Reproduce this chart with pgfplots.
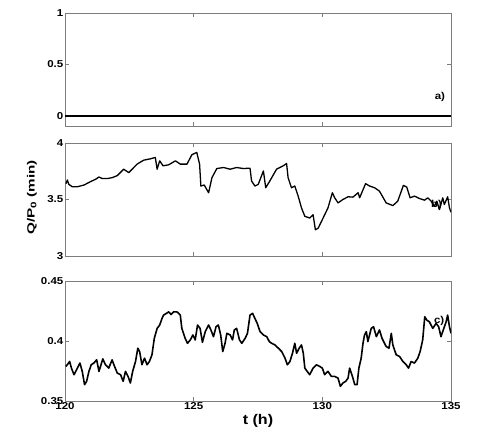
\documentclass[border=0pt]{standalone}
\usepackage{fontspec}
\setmainfont{Liberation Sans}
\newfontfamily\lbl[FakeStretch=1.15]{Liberation Sans}
\newfontfamily\ylbl[FakeStretch=1.45]{Liberation Sans}
\usepackage{pgfplots}
\pgfplotsset{compat=1.18}
\definecolor{axgray}{RGB}{125,125,125}

\pgfplotsset{
  panel/.style={
    scale only axis, width=386pt,
    xmin=120, xmax=135, xtick={120,125,130,135},
    tick align=inside, major tick length=4pt,
    axis line style={axgray, line width=0.6pt},
    tick style={axgray, line width=0.5pt},
    tick label style={font=\lbl\fontsize{10}{12}\selectfont\bfseries, text=black, inner sep=1.5pt},
    /pgf/number format/assume math mode=true,
    scaled ticks=false,
    anchor=south west,
  },
  trace/.style={black, line width=1.3pt, line join=round},
}
\tikzset{tag/.style={font=\lbl\fontsize{10}{12}\selectfont\bfseries}}

\begin{document}
\begin{tikzpicture}
\useasboundingbox (0,0) rectangle (498pt,435pt);

% a)
\begin{axis}[panel, at={(65pt,309pt)}, height=113pt,
  ymin=-0.1, ymax=1, ytick={0,0.5,1}, xticklabels=\empty]
\addplot[black, line width=1.8pt] coordinates {(120,0) (135,0)};
\node[tag] at (axis cs:134.57,0.18) {a)};
\end{axis}

% b)
\begin{axis}[panel, at={(65pt,179pt)}, height=113pt,
  ymin=3, ymax=4, ytick={3,3.5,4}, xticklabels=\empty,
  ylabel={Q/P\raisebox{-0.35ex}{\fontsize{8}{9}\selectfont 0} (min)},
  ylabel style={font=\ylbl\fontsize{10.5}{12}\selectfont\bfseries, at={(rel axis cs:-0.086,0.52)}, anchor=center}]
\addplot[trace] coordinates {
(120.04,3.640) (120.09,3.673) (120.15,3.634) (120.28,3.613) (120.48,3.613)
(120.74,3.628) (120.99,3.658) (121.19,3.679) (121.32,3.699) (121.45,3.685)
(121.64,3.685) (121.83,3.693) (122.03,3.711) (122.28,3.768) (122.48,3.738)
(122.61,3.768) (122.80,3.813) (123.06,3.848) (123.32,3.860) (123.51,3.872)
(123.58,3.768) (123.68,3.842) (123.81,3.798) (124.03,3.807) (124.29,3.842)
(124.48,3.813) (124.74,3.813) (124.93,3.896) (125.12,3.917) (125.23,3.813)
(125.28,3.619) (125.41,3.628) (125.58,3.560) (125.71,3.693) (125.90,3.774)
(126.16,3.783) (126.42,3.768) (126.67,3.783) (126.93,3.774) (127.19,3.777)
(127.25,3.664) (127.38,3.619) (127.51,3.634) (127.71,3.753) (127.80,3.604)
(127.96,3.664) (128.22,3.768) (128.48,3.798) (128.61,3.818) (128.67,3.693)
(128.80,3.604) (128.93,3.619) (129.06,3.530) (129.19,3.426) (129.32,3.351)
(129.51,3.336) (129.64,3.366) (129.73,3.232) (129.84,3.247) (130.03,3.336)
(130.22,3.426) (130.39,3.560) (130.48,3.515) (130.61,3.470) (130.80,3.500)
(131.00,3.524) (131.19,3.521) (131.39,3.560) (131.45,3.515) (131.68,3.640)
(131.84,3.619) (132.03,3.604) (132.22,3.574) (132.48,3.470) (132.74,3.446)
(132.93,3.485) (133.15,3.625) (133.28,3.610) (133.41,3.515) (133.58,3.530)
(133.77,3.509) (133.97,3.494) (134.10,3.515) (134.23,3.485) (134.35,3.440)
(134.45,3.485) (134.55,3.411) (134.68,3.515) (134.74,3.455) (134.87,3.524)
(134.94,3.426) (135.00,3.387)
};
\node[tag] at (axis cs:134.44,3.45) {b)};
\end{axis}

% c)
\begin{axis}[panel, at={(65pt,34pt)}, height=120pt,
  ymin=0.35, ymax=0.45, ytick={0.35,0.4,0.45},
  xlabel={t (h)},
  xlabel style={font=\lbl\fontsize{14}{16}\selectfont\bfseries, at={(rel axis cs:0.5,-0.167)}, anchor=center}]
\addplot[trace, line width=1.6pt] coordinates {
(120.03,0.3788) (120.09,0.3802) (120.18,0.3829) (120.25,0.3774) (120.35,0.3719)
(120.45,0.3760) (120.58,0.3816) (120.67,0.3747) (120.76,0.3636) (120.84,0.3664)
(120.93,0.3747) (121.02,0.3802) (121.12,0.3816) (121.23,0.3843) (121.32,0.3747)
(121.38,0.3788) (121.47,0.3851) (121.57,0.3802) (121.70,0.3774) (121.83,0.3843)
(121.90,0.3802) (122.03,0.3733) (122.16,0.3719) (122.26,0.3664) (122.35,0.3747)
(122.45,0.3705) (122.54,0.3650) (122.63,0.3747) (122.74,0.3829) (122.83,0.3940)
(122.90,0.3912) (122.99,0.3802) (123.09,0.3857) (123.19,0.3802) (123.28,0.3829)
(123.38,0.3885) (123.47,0.4022) (123.58,0.4105) (123.68,0.4133) (123.77,0.4188)
(123.83,0.4216) (123.94,0.4230) (124.03,0.4243) (124.12,0.4221) (124.22,0.4243)
(124.35,0.4243) (124.48,0.4216) (124.54,0.4105) (124.67,0.4022) (124.76,0.3981)
(124.87,0.4009) (124.97,0.4050) (125.06,0.4009) (125.15,0.4133) (125.25,0.4105)
(125.34,0.3989) (125.45,0.4078) (125.58,0.4133) (125.67,0.4092) (125.77,0.4036)
(125.87,0.4119) (125.96,0.4133) (126.05,0.4050) (126.13,0.3912) (126.22,0.3981)
(126.29,0.4064) (126.42,0.4050) (126.51,0.4009) (126.58,0.4092) (126.67,0.4105)
(126.78,0.4009) (126.87,0.3981) (127.00,0.4022) (127.09,0.4064) (127.19,0.4216)
(127.29,0.4230) (127.38,0.4188) (127.47,0.4147) (127.58,0.4078) (127.71,0.4050)
(127.84,0.4036) (127.94,0.3995) (128.03,0.3981) (128.16,0.3967) (128.29,0.3940)
(128.42,0.3912) (128.55,0.3857) (128.64,0.3802) (128.74,0.3829) (128.84,0.3898)
(128.93,0.3981) (129.00,0.3898) (129.10,0.3940) (129.19,0.3967) (129.26,0.3898)
(129.32,0.3774) (129.41,0.3747) (129.51,0.3719) (129.64,0.3774) (129.77,0.3802)
(129.90,0.3788) (130.00,0.3774) (130.09,0.3719) (130.22,0.3747) (130.35,0.3705)
(130.48,0.3705) (130.61,0.3691) (130.70,0.3622) (130.80,0.3650) (130.91,0.3664)
(131.00,0.3691) (131.06,0.3774) (131.17,0.3705) (131.26,0.3636) (131.35,0.3636)
(131.42,0.3774) (131.51,0.3857) (131.58,0.3981) (131.64,0.4050) (131.71,0.4078)
(131.77,0.3995) (131.90,0.4105) (131.99,0.4119) (132.10,0.4036) (132.22,0.4092)
(132.32,0.4022) (132.48,0.3954) (132.59,0.3940) (132.68,0.4064) (132.74,0.3967)
(132.87,0.3885) (133.00,0.3871) (133.13,0.3829) (133.26,0.3802) (133.35,0.3774)
(133.45,0.3829) (133.58,0.3816) (133.71,0.3857) (133.80,0.3912) (133.90,0.4009)
(133.98,0.4202) (134.06,0.4174) (134.16,0.4160) (134.29,0.4105) (134.42,0.4147)
(134.52,0.4119) (134.61,0.4036) (134.70,0.4092) (134.81,0.4160) (134.87,0.4216)
(134.94,0.4119) (135.00,0.4064)
};
\node[tag] at (axis cs:134.54,0.4167) {c)};
\end{axis}
\end{tikzpicture}
\end{document}
